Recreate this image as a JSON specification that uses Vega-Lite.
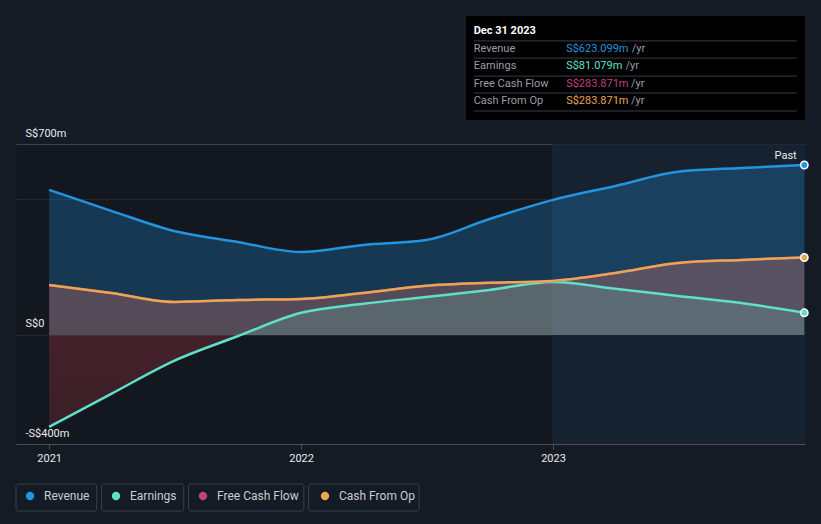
{
  "$schema": "https://vega.github.io/schema/vega-lite/v6.json",
  "width": 789,
  "height": 300,
  "autosize": {"type": "none"},
  "padding": {"left": 16, "top": 144, "right": 16, "bottom": 80},
  "background": "#151b24",
  "config": {
    "view": {"stroke": null, "fill": "#13171f"},
    "font": "Roboto",
    "legend": {"labelFont": "Roboto"}
  },
  "datasets": {
    "fin": [
      {"date": "2021-01-01", "series": "Revenue", "value": 532},
      {"date": "2021-04-01", "series": "Revenue", "value": 455},
      {"date": "2021-07-01", "series": "Revenue", "value": 381},
      {"date": "2021-10-01", "series": "Revenue", "value": 341},
      {"date": "2022-01-01", "series": "Revenue", "value": 304},
      {"date": "2022-04-01", "series": "Revenue", "value": 330},
      {"date": "2022-07-01", "series": "Revenue", "value": 348},
      {"date": "2022-10-01", "series": "Revenue", "value": 425},
      {"date": "2023-01-01", "series": "Revenue", "value": 495},
      {"date": "2023-04-01", "series": "Revenue", "value": 546},
      {"date": "2023-07-01", "series": "Revenue", "value": 598},
      {"date": "2023-10-01", "series": "Revenue", "value": 612},
      {"date": "2023-12-31", "series": "Revenue", "value": 623.099},
      {"date": "2021-01-01", "series": "Earnings", "value": -337},
      {"date": "2021-04-01", "series": "Earnings", "value": -216},
      {"date": "2021-07-01", "series": "Earnings", "value": -95},
      {"date": "2021-10-01", "series": "Earnings", "value": -5},
      {"date": "2022-01-01", "series": "Earnings", "value": 81},
      {"date": "2022-04-01", "series": "Earnings", "value": 114},
      {"date": "2022-07-01", "series": "Earnings", "value": 139},
      {"date": "2022-10-01", "series": "Earnings", "value": 165},
      {"date": "2023-01-01", "series": "Earnings", "value": 194},
      {"date": "2023-04-01", "series": "Earnings", "value": 169},
      {"date": "2023-07-01", "series": "Earnings", "value": 143},
      {"date": "2023-10-01", "series": "Earnings", "value": 117},
      {"date": "2023-12-31", "series": "Earnings", "value": 81.079},
      {"date": "2021-01-01", "series": "Free Cash Flow", "value": 183},
      {"date": "2021-04-01", "series": "Free Cash Flow", "value": 154},
      {"date": "2021-07-01", "series": "Free Cash Flow", "value": 121},
      {"date": "2021-10-01", "series": "Free Cash Flow", "value": 128},
      {"date": "2022-01-01", "series": "Free Cash Flow", "value": 132},
      {"date": "2022-04-01", "series": "Free Cash Flow", "value": 154},
      {"date": "2022-07-01", "series": "Free Cash Flow", "value": 180},
      {"date": "2022-10-01", "series": "Free Cash Flow", "value": 191},
      {"date": "2023-01-01", "series": "Free Cash Flow", "value": 198},
      {"date": "2023-04-01", "series": "Free Cash Flow", "value": 227},
      {"date": "2023-07-01", "series": "Free Cash Flow", "value": 264},
      {"date": "2023-10-01", "series": "Free Cash Flow", "value": 275},
      {"date": "2023-12-31", "series": "Free Cash Flow", "value": 283.871},
      {"date": "2021-01-01", "series": "Cash From Op", "value": 183},
      {"date": "2021-04-01", "series": "Cash From Op", "value": 154},
      {"date": "2021-07-01", "series": "Cash From Op", "value": 121},
      {"date": "2021-10-01", "series": "Cash From Op", "value": 128},
      {"date": "2022-01-01", "series": "Cash From Op", "value": 132},
      {"date": "2022-04-01", "series": "Cash From Op", "value": 154},
      {"date": "2022-07-01", "series": "Cash From Op", "value": 180},
      {"date": "2022-10-01", "series": "Cash From Op", "value": 191},
      {"date": "2023-01-01", "series": "Cash From Op", "value": 198},
      {"date": "2023-04-01", "series": "Cash From Op", "value": 227},
      {"date": "2023-07-01", "series": "Cash From Op", "value": 264},
      {"date": "2023-10-01", "series": "Cash From Op", "value": 275},
      {"date": "2023-12-31", "series": "Cash From Op", "value": 283.871}
    ],
    "one": [{"k": 1}],
    "past": [{"start": "2023-01-01", "end": "2024-01-01", "lab": "2023-12-20", "v": 656}]
  },
  "data": {"name": "fin"},
  "encoding": {
    "x": {
      "field": "date", "type": "temporal",
      "scale": {"type": "utc", "domain": [{"year": 2020, "month": 11, "date": 14, "utc": true}, {"year": 2024, "month": 1, "date": 1, "utc": true}], "nice": false},
      "axis": {
        "values": [{"year": 2021, "month": 1, "date": 1, "utc": true}, {"year": 2022, "month": 1, "date": 1, "utc": true}, {"year": 2023, "month": 1, "date": 1, "utc": true}],
        "format": "%Y", "title": null, "grid": false,
        "domainColor": "#4a505a", "tickColor": "#4a505a", "tickSize": 5,
        "labelColor": "#e8eaed", "labelFontSize": 11, "labelPadding": 3
      }
    },
    "y": {
      "field": "value", "type": "quantitative",
      "scale": {"domain": [-400, 700], "nice": false, "zero": false},
      "axis": {
        "values": [-400, 0, 500, 700],
        "title": null, "domain": false, "ticks": false,
        "labelExpr": "datum.value == 500 ? '' : (datum.value == 0 ? 'S$0' : (datum.value < 0 ? '-S$' + abs(datum.value) + 'm' : 'S$' + datum.value + 'm'))",
        "labelAlign": "left", "labelBaseline": "alphabetic", "labelPadding": -9, "labelOffset": -8,
        "labelColor": "#e8eaed", "labelFontSize": 11,
        "grid": true,
        "gridColor": {"condition": {"test": "datum.value == 700", "value": "#3d434d"}, "value": "#222933"},
        "gridOpacity": {"condition": {"test": "datum.value == -400", "value": 0}, "value": 1}
      }
    }
  },
  "layer": [
    {
      "data": {"name": "past"},
      "mark": {"type": "rect", "color": "#182534", "opacity": 0.85},
      "encoding": {
        "x": {"field": "start", "type": "temporal"},
        "x2": {"field": "end"},
        "y": null
      }
    },
    {
      "data": {"name": "past"},
      "mark": {"type": "rule", "color": "#1f2b38", "strokeWidth": 1},
      "encoding": {
        "x": {"field": "start", "type": "temporal"},
        "y": null
      }
    },
    {
      "transform": [{"filter": "datum.series == 'Revenue'"}],
      "mark": {"type": "area", "color": "#2394df", "opacity": 0.27, "interpolate": "monotone"},
      "encoding": {"y2": {"datum": 0}}
    },
    {
      "transform": [{"filter": "datum.series == 'Free Cash Flow'"}],
      "mark": {"type": "area", "color": "#c2407d", "opacity": 0.2, "interpolate": "monotone"},
      "encoding": {"y2": {"datum": 0}}
    },
    {
      "transform": [{"filter": "datum.series == 'Cash From Op'"}],
      "mark": {"type": "area", "color": "#e9a752", "opacity": 0.17, "interpolate": "monotone"},
      "encoding": {"y2": {"datum": 0}}
    },
    {
      "transform": [{"filter": "datum.series == 'Earnings'"}],
      "mark": {
        "type": "area", "interpolate": "monotone",
        "color": {
          "gradient": "linear", "x1": 0, "y1": 0, "x2": 0, "y2": 1,
          "stops": [
            {"offset": 0, "color": "rgba(110,210,190,0.2)"},
            {"offset": 0.3646, "color": "rgba(110,210,190,0.2)"},
            {"offset": 0.3647, "color": "rgba(200,60,72,0.27)"},
            {"offset": 1, "color": "rgba(200,60,72,0.22)"}
          ]
        }
      },
      "encoding": {"y2": {"datum": 0}}
    },
    {
      "data": {"name": "one"},
      "mark": {"type": "rule", "color": "#ffffff", "strokeWidth": 1.2},
      "encoding": {"y": {"datum": 0}, "x": null}
    },
    {
      "mark": {"type": "line", "strokeWidth": 2.5, "interpolate": "monotone"},
      "encoding": {
        "color": {
          "field": "series", "type": "nominal",
          "scale": {"domain": ["Revenue", "Earnings", "Free Cash Flow", "Cash From Op"], "range": ["#2394df", "#5ee0c9", "#c2407d", "#e9a752"]},
          "legend": {
            "title": null, "orient": "none", "legendX": 8, "legendY": 346, "direction": "horizontal",
            "symbolType": "circle", "symbolSize": 70, "symbolStrokeWidth": 0,
            "labelColor": "#c8ccd3", "labelFontSize": 12, "labelOffset": 8, "columnPadding": 20
          }
        }
      }
    },
    {
      "transform": [{"filter": "datum.series != 'Free Cash Flow'"}, {"filter": {"field": "date", "timeUnit": "utcyearmonthdate", "equal": {"year": 2023, "month": 12, "date": 31, "utc": true}}}],
      "mark": {"type": "point", "filled": true, "size": 55, "stroke": "#ffffff", "strokeWidth": 1.5, "opacity": 1},
      "encoding": {
        "fill": {"field": "series", "type": "nominal", "scale": {"domain": ["Revenue", "Earnings", "Free Cash Flow", "Cash From Op"], "range": ["#2394df", "#5ee0c9", "#c2407d", "#e9a752"]}, "legend": null}
      }
    },
    {
      "data": {"name": "past"},
      "mark": {"type": "text", "text": "Past", "align": "right", "baseline": "middle", "color": "#e8eaed", "fontSize": 11},
      "encoding": {"x": {"field": "lab", "type": "temporal"}, "y": {"field": "v", "type": "quantitative"}}
    },
    {
      "data": {"values": [
        {"a": "2020-11-14", "b": "2021-03-11", "top": -547, "bot": -646},
        {"a": "2021-03-18", "b": "2021-07-15", "top": -547, "bot": -646},
        {"a": "2021-07-22", "b": "2022-01-05", "top": -547, "bot": -646},
        {"a": "2022-01-12", "b": "2022-06-21", "top": -547, "bot": -646}
      ]},
      "mark": {"type": "rect", "fill": null, "stroke": "#3a404a", "strokeWidth": 1, "cornerRadius": 2},
      "encoding": {
        "x": {"field": "a", "type": "temporal"},
        "x2": {"field": "b"},
        "y": {"field": "top", "type": "quantitative"}, "y2": {"field": "bot"}
      }
    },
    {
      "data": {"values": [{"a": "2022-08-28", "b": "2024-01-01", "top": 1169, "bot": 788}]},
      "mark": {"type": "rect", "color": "#000000"},
      "encoding": {
        "x": {"field": "a", "type": "temporal"},
        "x2": {"field": "b"},
        "y": {"field": "top", "type": "quantitative"}, "y2": {"field": "bot"}
      }
    },
    {
      "data": {"values": [{"v": 1078, "a": "2022-09-08", "b": "2023-12-20"}, {"v": 1015, "a": "2022-09-08", "b": "2023-12-20"}, {"v": 949, "a": "2022-09-08", "b": "2023-12-20"}, {"v": 887, "a": "2022-09-08", "b": "2023-12-20"}, {"v": 821, "a": "2022-09-08", "b": "2023-12-20"}]},
      "mark": {"type": "rule", "color": "#3a3d42", "strokeWidth": 1},
      "encoding": {
        "x": {"field": "a", "type": "temporal"},
        "x2": {"field": "b"},
        "y": {"field": "v", "type": "quantitative"}
      }
    },
    {
      "data": {"values": [{"label": "Dec 31 2023", "v": 1114, "a": "2022-09-08"}]},
      "mark": {"type": "text", "align": "left", "baseline": "middle", "color": "#ffffff", "fontSize": 11, "fontWeight": "bold"},
      "encoding": {"x": {"field": "a", "type": "temporal"}, "y": {"field": "v", "type": "quantitative"}, "text": {"field": "label"}}
    },
    {
      "data": {"values": [{"label": "Revenue", "v": 1048, "a": "2022-09-08"}, {"label": "Earnings", "v": 986, "a": "2022-09-08"}, {"label": "Free Cash Flow", "v": 920, "a": "2022-09-08"}, {"label": "Cash From Op", "v": 858, "a": "2022-09-08"}]},
      "mark": {"type": "text", "align": "left", "baseline": "middle", "color": "#9a9ea5", "fontSize": 11},
      "encoding": {
        "x": {"field": "a", "type": "temporal"},
        "y": {"field": "v", "type": "quantitative"},
        "text": {"field": "label"}
      }
    },
    {
      "data": {"values": [{"series": "Revenue", "txt": "S$623.099m", "v": 1048, "a": "2023-01-20"}, {"series": "Earnings", "txt": "S$81.079m", "v": 986, "a": "2023-01-20"}, {"series": "Free Cash Flow", "txt": "S$283.871m", "v": 920, "a": "2023-01-20"}, {"series": "Cash From Op", "txt": "S$283.871m", "v": 858, "a": "2023-01-20"}]},
      "mark": {"type": "text", "align": "left", "baseline": "middle", "fontSize": 11},
      "encoding": {
        "x": {"field": "a", "type": "temporal"},
        "y": {"field": "v", "type": "quantitative"},
        "text": {"field": "txt"},
        "color": {"field": "series", "type": "nominal", "legend": null}
      }
    },
    {
      "data": {"values": [{"v": 1048, "d": "2023-04-25"}, {"v": 986, "d": "2023-04-16"}, {"v": 920, "d": "2023-04-24"}, {"v": 858, "d": "2023-04-24"}]},
      "mark": {"type": "text", "text": "/yr", "align": "left", "baseline": "middle", "color": "#9a9ea5", "fontSize": 11},
      "encoding": {
        "x": {"field": "d", "type": "temporal"},
        "y": {"field": "v", "type": "quantitative"}
      }
    }
  ]
}
